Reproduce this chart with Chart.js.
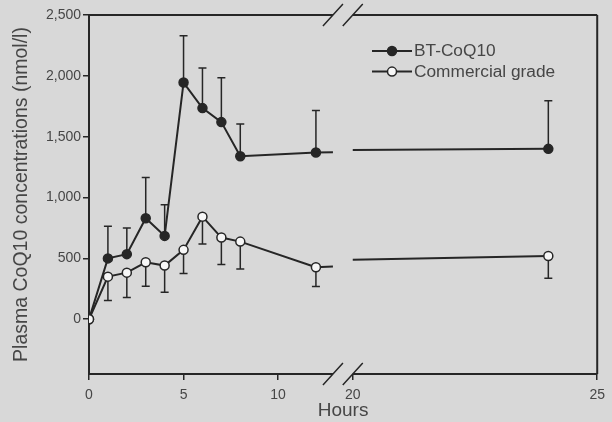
<!DOCTYPE html>
<html>
<head>
<meta charset="utf-8">
<script src="https://cdn.jsdelivr.net/npm/chart.js@4"></script>
<style>
  html, body { margin: 0; padding: 0; background: #d8d8d8; }
  canvas { display: block; }
</style>
</head>
<body>
<canvas id="chart" width="612" height="422"></canvas>
<script>
const hours = [0, 1, 2, 3, 4, 5, 6, 7, 8, 12, 24];
const btMean = [0, 500, 535, 830, 685, 1945, 1735, 1620, 1340, 1370, 1400];
const btSd = [0, 265, 215, 335, 255, 385, 330, 365, 265, 345, 395];
const commercialMean = [0, 350, 383, 468, 441, 570, 843, 671, 638, 427, 520];
const commercialSd = [0, 197, 205, 197, 219, 195, 224, 222, 225, 159, 183];
const seriesNames = ["BT-CoQ10", "Commercial grade"];
const xTicks = [0, 5, 10, 20, 25];
const yTicks = [0, 500, 1000, 1500, 2000, 2500];

const ink = "#262626";
const textColor = "#464646";

Chart.defaults.font.family = "'Liberation Sans', Arial, sans-serif";

// x axis is broken: 0-12.9 h on the left part, 20-25 h on the right part
const breakLo = 12.9, breakHi = 20, xMax = 25;
const fracLo = 0.48, fracHi = 0.519;

function hourToFrac(h) {
  if (h <= breakLo) return h / breakLo * fracLo;
  if (h >= breakHi) return fracHi + (h - breakHi) / (xMax - breakHi) * (1 - fracHi);
  return fracLo + (h - breakLo) / (breakHi - breakLo) * (fracHi - fracLo);
}
function fracToHour(f) {
  if (f <= fracLo) return f / fracLo * breakLo;
  if (f >= fracHi) return breakHi + (f - fracHi) / (1 - fracHi) * (xMax - breakHi);
  return breakLo + (f - fracLo) / (fracHi - fracLo) * (breakHi - breakLo);
}

class BrokenScale extends Chart.LinearScale {
  getPixelForValue(value) {
    if (value === null || value === undefined) return NaN;
    return this.getPixelForDecimal(hourToFrac(value));
  }
  getValueForPixel(pixel) {
    return fracToHour(this.getDecimalForPixel(pixel));
  }
}
BrokenScale.id = "broken";
BrokenScale.defaults = Chart.LinearScale.defaults;
Chart.register(BrokenScale);

function crossesBreak(ctx) {
  return ctx.p0.parsed.x < breakLo && ctx.p1.parsed.x > breakHi;
}

// error bars (BT up, commercial down) + line pieces through the break
const extras = {
  id: "extras",
  beforeDatasetsDraw(chart) {
    const { ctx, scales: { x, y } } = chart;
    ctx.save();
    ctx.strokeStyle = ink;
    chart.data.datasets.forEach((ds) => {
      ctx.lineWidth = 1.5;
      ds.sd.forEach((e, j) => {
        if (!e) return;
        const px = x.getPixelForValue(hours[j]);
        const y0 = y.getPixelForValue(ds.data[j].y);
        const y1 = y.getPixelForValue(ds.data[j].y + ds.sdDir * e);
        ctx.beginPath();
        ctx.moveTo(px, y0);
        ctx.lineTo(px, y1);
        ctx.moveTo(px - 4, y1);
        ctx.lineTo(px + 4, y1);
        ctx.stroke();
      });
      // connecting line across the axis break, drawn in data space
      ctx.lineWidth = 2;
      for (let j = 0; j < ds.data.length - 1; j++) {
        const a = ds.data[j], b = ds.data[j + 1];
        if (a.x < breakLo && b.x > breakHi) {
          const slope = (b.y - a.y) / (b.x - a.x);
          const yLo = a.y + slope * (breakLo - a.x);
          const yHi = a.y + slope * (breakHi - a.x);
          ctx.beginPath();
          ctx.moveTo(x.getPixelForValue(a.x), y.getPixelForValue(a.y));
          ctx.lineTo(x.getPixelForValue(breakLo), y.getPixelForValue(yLo));
          ctx.moveTo(x.getPixelForValue(breakHi), y.getPixelForValue(yHi));
          ctx.lineTo(x.getPixelForValue(b.x), y.getPixelForValue(b.y));
          ctx.stroke();
        }
      }
    });
    ctx.restore();
  },
  afterDraw(chart) {
    const { ctx, chartArea: a, scales: { x } } = chart;
    const xLo = x.getPixelForValue(breakLo);
    const xHi = x.getPixelForValue(breakHi);
    ctx.save();
    ctx.strokeStyle = ink;
    ctx.lineWidth = 2;
    ctx.beginPath();
    // top and bottom frame lines with the gap, right frame line
    [a.top, a.bottom].forEach((yy) => {
      ctx.moveTo(a.left, yy);
      ctx.lineTo(xLo, yy);
      ctx.moveTo(xHi, yy);
      ctx.lineTo(a.right, yy);
    });
    ctx.moveTo(a.right, a.top);
    ctx.lineTo(a.right, a.bottom);
    ctx.stroke();
    ctx.lineWidth = 1.5;
    ctx.beginPath();
    [a.top, a.bottom].forEach((yy) => {
      [xLo, xHi].forEach((xx) => {
        ctx.moveTo(xx - 10, yy + 11);
        ctx.lineTo(xx + 10, yy - 11);
      });
    });
    ctx.stroke();

    // legend
    const lx = a.left + 303;
    chart.data.datasets.forEach((ds, i) => {
      const ly = a.top + 36 + i * 20.6;
      ctx.strokeStyle = ink;
      ctx.lineWidth = 2;
      ctx.beginPath();
      ctx.moveTo(lx - 20, ly);
      ctx.lineTo(lx + 20, ly);
      ctx.stroke();
      ctx.beginPath();
      ctx.arc(lx, ly, 4.5, 0, Math.PI * 2);
      ctx.fillStyle = ds.pointBackgroundColor;
      ctx.fill();
      ctx.lineWidth = 1.5;
      ctx.stroke();
      ctx.fillStyle = textColor;
      ctx.font = "17.3px 'Liberation Sans', Arial, sans-serif";
      ctx.textBaseline = "middle";
      ctx.textAlign = "left";
      ctx.fillText(seriesNames[ds.nameIndex], lx + 22, ly + 0.5);
    });
    ctx.restore();
  }
};

new Chart(document.getElementById("chart").getContext("2d"), {
  type: "line",
  data: {
    datasets: [
      {
        nameIndex: 0,
        data: hours.map((h, i) => ({ x: h, y: btMean[i] })),
        sd: btSd,
        sdDir: 1,
        order: 1,
        borderColor: ink,
        borderWidth: 2,
        pointRadius: 4.5,
        pointBackgroundColor: ink,
        pointBorderColor: ink,
        pointBorderWidth: 1.5,
        segment: { borderColor: (ctx) => crossesBreak(ctx) ? "rgba(0,0,0,0)" : ink }
      },
      {
        nameIndex: 1,
        data: hours.map((h, i) => ({ x: h, y: commercialMean[i] })),
        sd: commercialSd,
        sdDir: -1,
        order: 0,
        borderColor: ink,
        borderWidth: 2,
        pointRadius: 4.5,
        pointBackgroundColor: "#f7f7f7",
        pointBorderColor: ink,
        pointBorderWidth: 1.5,
        segment: { borderColor: (ctx) => crossesBreak(ctx) ? "rgba(0,0,0,0)" : ink }
      }
    ]
  },
  options: {
    responsive: false,
    animation: false,
    layout: { padding: { top: 15, right: 7, bottom: 0, left: 0 } },
    plugins: { legend: { display: false }, tooltip: { enabled: false } },
    scales: {
      x: {
        type: "broken",
        min: 0,
        max: xMax,
        afterBuildTicks: (s) => { s.ticks = xTicks.map((v) => ({ value: v })); },
        afterFit: (s) => { s.height = 48; },
        grid: { drawOnChartArea: false, drawTicks: true, tickLength: 6, color: ink, lineWidth: 1.5 },
        border: { display: false },
        ticks: {
          color: textColor, font: { size: 14 }, padding: 7,
          maxRotation: 0, autoSkip: false,
          callback: (v) => String(v)
        },
        title: {
          display: true, text: "Hours", color: textColor,
          font: { size: 19 }, padding: { top: 0, bottom: 0 }
        }
      },
      y: {
        min: -450,
        max: 2500,
        afterBuildTicks: (s) => { s.ticks = yTicks.map((v) => ({ value: v })); },
        afterFit: (s) => { s.width = 89; },
        grid: { drawOnChartArea: false, drawTicks: true, tickLength: 6, color: ink, lineWidth: 1.5 },
        border: { display: true, color: ink, width: 2 },
        ticks: {
          color: textColor, font: { size: 14 }, padding: 2,
          callback: (v) => v.toLocaleString("en-US")
        },
        title: {
          display: true, text: "Plasma CoQ10 concentrations (nmol/l)", color: textColor,
          font: { size: 19.5 }, padding: { top: 10, bottom: 0 }
        }
      }
    }
  },
  plugins: [extras]
});
</script>
</body>
</html>
